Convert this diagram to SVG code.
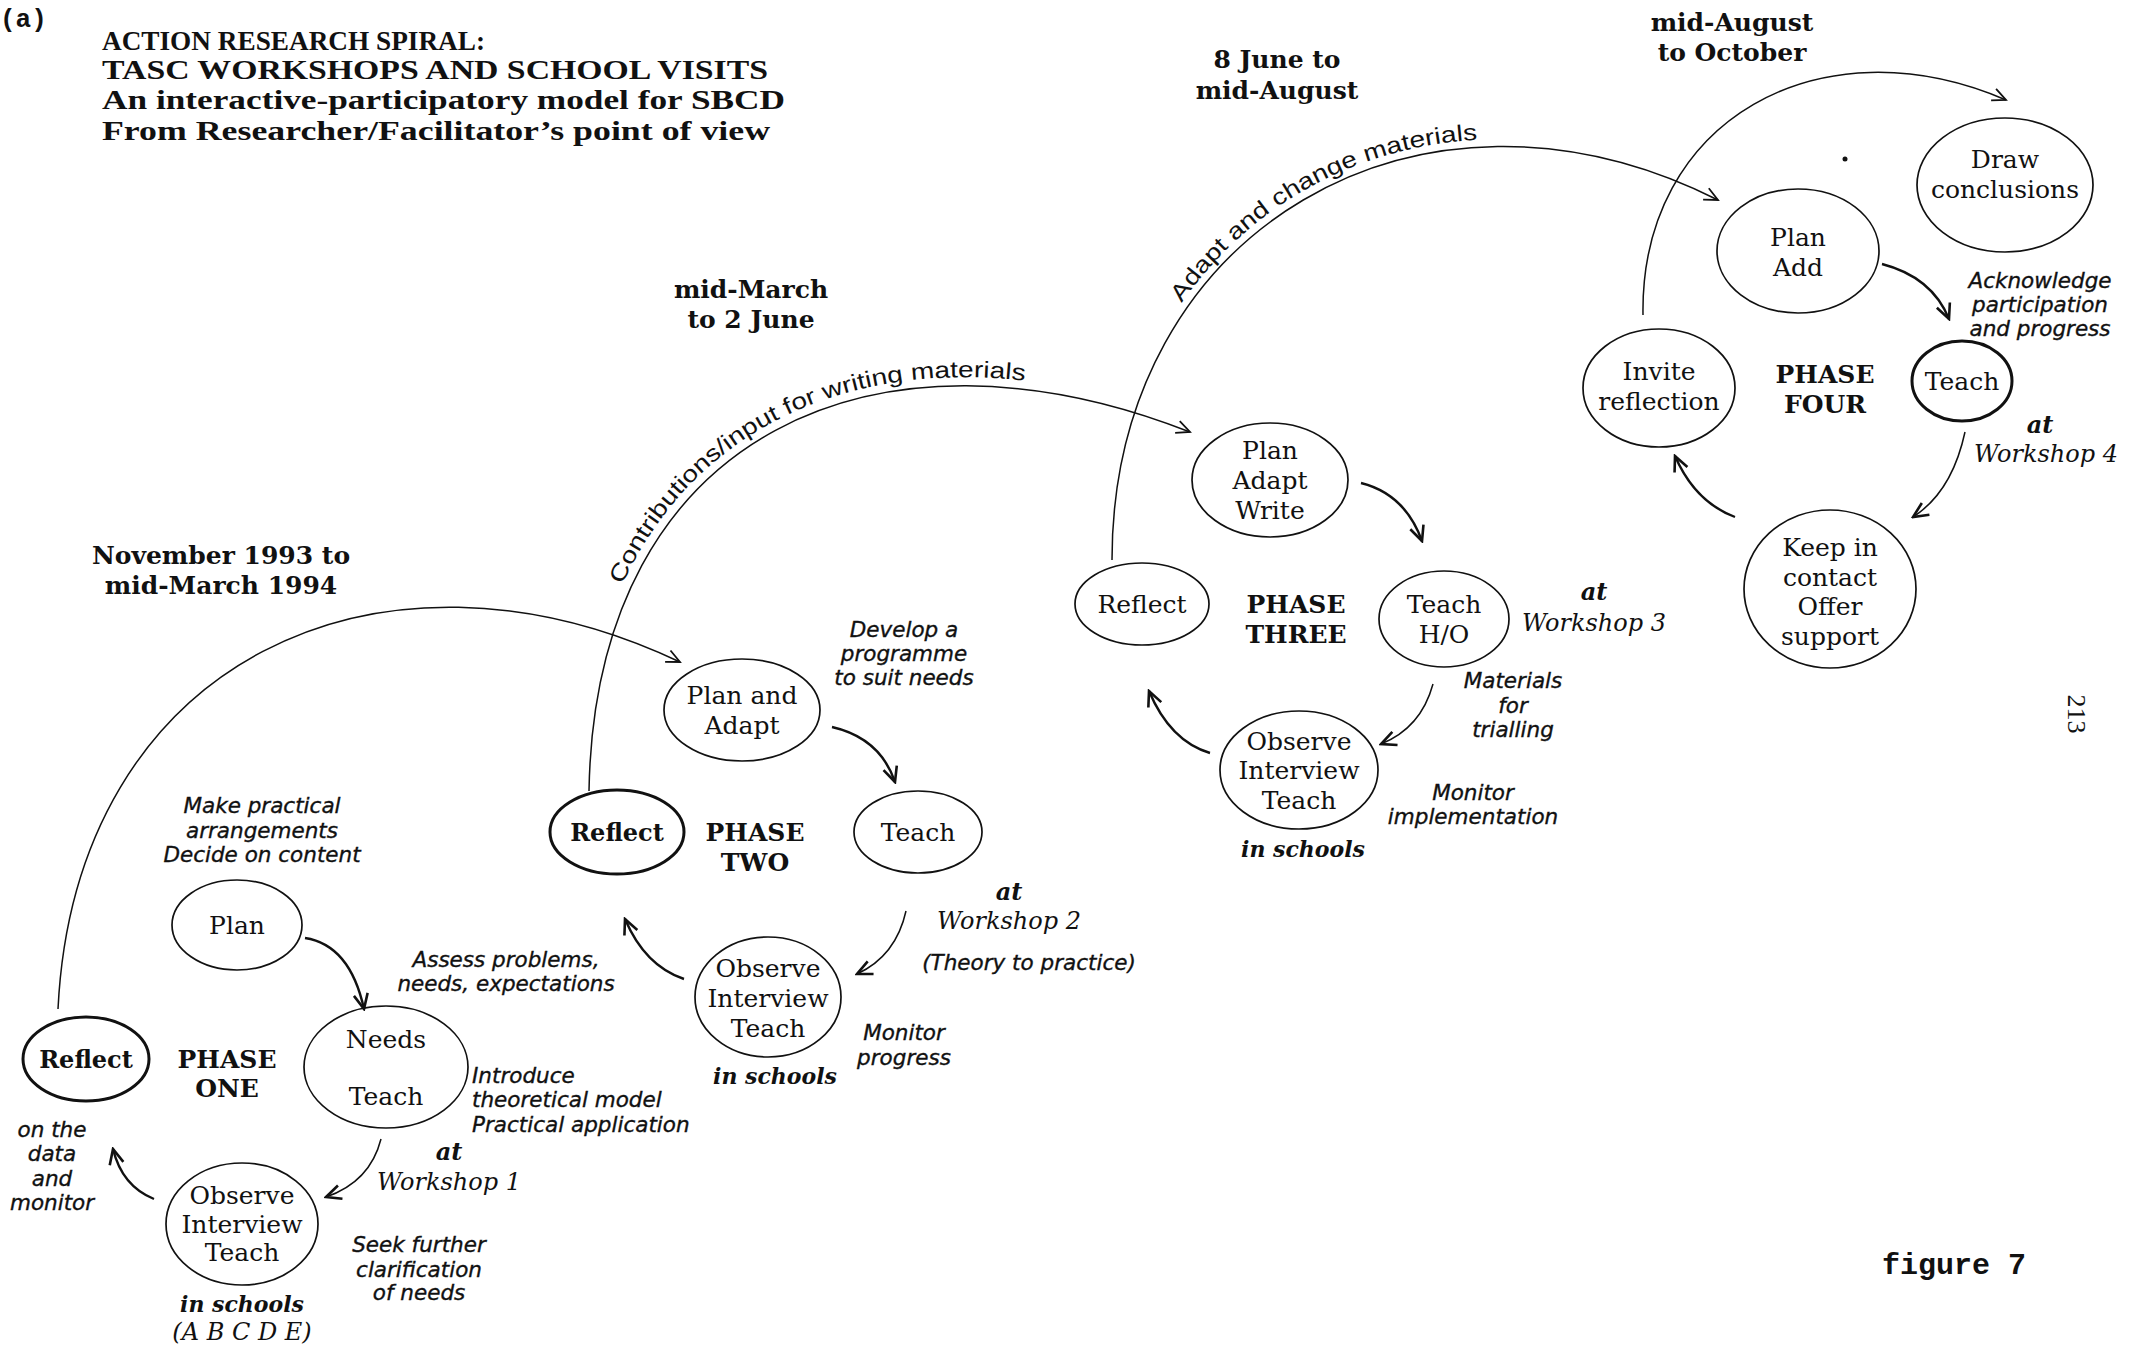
<svg xmlns="http://www.w3.org/2000/svg" width="2132" height="1349" viewBox="0 0 2132 1349">
<style>
.bg{fill:#fff}
ellipse{fill:none;stroke:#111;stroke-width:1.7}
ellipse.thick{stroke-width:3}
text{fill:#111}
.n{font-family:"DejaVu Serif","Liberation Serif",serif;font-size:25px;text-anchor:middle}
.nb{font-family:"DejaVu Serif","Liberation Serif",serif;font-size:24px;font-weight:bold;text-anchor:middle}
.ph{font-family:"DejaVu Serif","Liberation Serif",serif;font-size:25px;font-weight:bold;text-anchor:middle}
.date{font-family:"DejaVu Serif","Liberation Serif",serif;font-size:25px;font-weight:bold;text-anchor:middle}
.title{font-family:"Liberation Serif",serif;font-size:28px;font-weight:bold}
.note{font-family:"DejaVu Sans","Liberation Sans",sans-serif;font-size:21.5px;font-style:italic;text-anchor:middle;stroke:#111;stroke-width:0.35}
.notel{font-family:"DejaVu Sans","Liberation Sans",sans-serif;font-size:21.5px;font-style:italic;stroke:#111;stroke-width:0.35}
.ws{font-family:"DejaVu Serif","Liberation Serif",serif;font-size:24px;font-style:italic;text-anchor:middle}
.at{font-family:"DejaVu Serif","Liberation Serif",serif;font-size:24px;font-style:italic;font-weight:bold;text-anchor:middle}
.sch{font-family:"DejaVu Serif","Liberation Serif",serif;font-size:22px;font-style:italic;font-weight:bold;text-anchor:middle}
.arc{font-family:"Liberation Sans",Arial,sans-serif;font-size:23px}
.mono{font-family:"Liberation Mono","Courier New",monospace;font-weight:bold}
.c{fill:none;stroke:#111;stroke-width:1.5}
.ci{fill:none;stroke:#111;stroke-width:2.4}
</style>
<defs>
<marker id="ah" viewBox="0 0 20 20" refX="18" refY="10" markerWidth="18" markerHeight="18" markerUnits="userSpaceOnUse" orient="auto"><path d="M3,3 L18,10 L3,17" fill="none" stroke="#111" stroke-width="2"/></marker>
<marker id="ahi" viewBox="0 0 20 20" refX="18" refY="10" markerWidth="20" markerHeight="20" markerUnits="userSpaceOnUse" orient="auto"><path d="M3,3 L18,10 L3,17" fill="none" stroke="#111" stroke-width="2.6"/></marker>
<path id="tp2" d="M580,791 C586,423 880,301 1190,423"/>
<path id="tp3" d="M1106,560 C1106,223 1418,41 1716,194"/>
</defs>
<rect class="bg" x="0" y="0" width="2132" height="1349"/>

<g id="title">
<text class="mono" x="0" y="27" font-size="26">(a)</text>
<text class="title" x="102" y="50" textLength="383" lengthAdjust="spacingAndGlyphs">ACTION RESEARCH SPIRAL:</text>
<text class="title" x="102" y="79" textLength="666" lengthAdjust="spacingAndGlyphs">TASC WORKSHOPS AND SCHOOL VISITS</text>
<text class="title" x="102" y="109" textLength="683" lengthAdjust="spacingAndGlyphs">An interactive-participatory model for SBCD</text>
<text class="title" x="102" y="140" textLength="668" lengthAdjust="spacingAndGlyphs">From Researcher/Facilitator’s point of view</text>
</g>

<g id="dates">
<text class="date" x="221" y="564">November 1993 to</text>
<text class="date" x="221" y="594">mid-March 1994</text>
<text class="date" x="751" y="298">mid-March</text>
<text class="date" x="751" y="328">to 2 June</text>
<text class="date" x="1277" y="68">8 June to</text>
<text class="date" x="1277" y="99">mid-August</text>
<text class="date" x="1732" y="31">mid-August</text>
<text class="date" x="1732" y="61">to October</text>
</g>

<g id="connectors">
<path class="c" d="M58,1009 C75,660 380,520 680,662" marker-end="url(#ah)"/>
<path class="c" d="M589,791 C595,430 880,310 1190,432" marker-end="url(#ah)"/>
<path class="c" d="M1112,560 C1112,230 1420,50 1718,200" marker-end="url(#ah)"/>
<path class="c" d="M1643,315 C1640,120 1820,20 2006,100" marker-end="url(#ah)"/>
<path class="ci" d="M305,938 Q350,945 364,1009" marker-end="url(#ahi)"/>
<path class="c" d="M381,1139 Q370,1182 326,1197" marker-end="url(#ahi)"/>
<path class="ci" d="M154,1199 Q122,1186 113,1149" marker-end="url(#ahi)"/>
<path class="ci" d="M832,727 Q880,738 895,782" marker-end="url(#ahi)"/>
<path class="c" d="M906,911 Q896,956 857,974" marker-end="url(#ahi)"/>
<path class="ci" d="M684,979 Q645,966 625,919" marker-end="url(#ahi)"/>
<path class="ci" d="M1361,483 Q1405,494 1422,541" marker-end="url(#ahi)"/>
<path class="c" d="M1433,684 Q1421,728 1381,744" marker-end="url(#ahi)"/>
<path class="ci" d="M1210,753 Q1170,741 1149,691" marker-end="url(#ahi)"/>
<path class="ci" d="M1882,264 Q1932,277 1949,319" marker-end="url(#ahi)"/>
<path class="c" d="M1965,432 Q1952,492 1913,517" marker-end="url(#ahi)"/>
<path class="ci" d="M1735,517 Q1695,502 1675,456" marker-end="url(#ahi)"/>
<text class="arc"><textPath href="#tp2" startOffset="212" textLength="485" lengthAdjust="spacingAndGlyphs">Contributions/input for writing materials</textPath></text>
<text class="arc"><textPath href="#tp3" startOffset="272" textLength="350" lengthAdjust="spacingAndGlyphs">Adapt and change materials</textPath></text>
</g>

<!-- PHASE ONE -->
<g id="p1-reflect"><ellipse class="thick" cx="86" cy="1059" rx="63" ry="42"/><text class="nb" x="86" y="1068">Reflect</text></g>
<g id="p1-label"><text class="ph" x="227" y="1068">PHASE</text><text class="ph" x="227" y="1097">ONE</text></g>
<g id="p1-plan"><ellipse cx="237" cy="925" rx="65" ry="45"/><text class="n" x="237" y="934">Plan</text></g>
<g id="p1-needs"><ellipse cx="386" cy="1067" rx="82" ry="61"/><text class="n" x="386" y="1048">Needs</text><text class="n" x="386" y="1105">Teach</text></g>
<g id="p1-observe"><ellipse cx="242" cy="1224" rx="76" ry="61"/><text class="n" x="242" y="1204">Observe</text><text class="n" x="242" y="1233">Interview</text><text class="n" x="242" y="1261">Teach</text></g>
<g id="p1-notes">
<text class="note" x="262" y="813">Make practical</text>
<text class="note" x="262" y="838">arrangements</text>
<text class="note" x="262" y="862">Decide on content</text>
<text class="note" x="506" y="967">Assess problems,</text>
<text class="note" x="506" y="991">needs, expectations</text>
<text class="notel" x="472" y="1083">Introduce</text>
<text class="notel" x="472" y="1107">theoretical model</text>
<text class="notel" x="472" y="1132">Practical application</text>
<text class="at" x="449" y="1160">at</text>
<text class="ws" x="449" y="1190">Workshop 1</text>
<text class="note" x="419" y="1252">Seek further</text>
<text class="note" x="419" y="1277">clarification</text>
<text class="note" x="419" y="1300">of needs</text>
<text class="sch" x="242" y="1312">in schools</text>
<text class="ws" x="242" y="1340">(A B C D E)</text>
<text class="note" x="52" y="1137">on the</text>
<text class="note" x="52" y="1161">data</text>
<text class="note" x="52" y="1186">and</text>
<text class="note" x="52" y="1210">monitor</text>
</g>

<!-- PHASE TWO -->
<g id="p2-plan"><ellipse cx="742" cy="710" rx="78" ry="51"/><text class="n" x="742" y="704">Plan and</text><text class="n" x="742" y="734">Adapt</text></g>
<g id="p2-reflect"><ellipse class="thick" cx="617" cy="832" rx="67" ry="42"/><text class="nb" x="617" y="841">Reflect</text></g>
<g id="p2-label"><text class="ph" x="755" y="841">PHASE</text><text class="ph" x="755" y="871">TWO</text></g>
<g id="p2-teach"><ellipse cx="918" cy="832" rx="64" ry="41"/><text class="n" x="918" y="841">Teach</text></g>
<g id="p2-observe"><ellipse cx="768" cy="997" rx="73" ry="60"/><text class="n" x="768" y="977">Observe</text><text class="n" x="768" y="1007">Interview</text><text class="n" x="768" y="1037">Teach</text></g>
<g id="p2-notes">
<text class="note" x="904" y="637">Develop a</text>
<text class="note" x="904" y="661">programme</text>
<text class="note" x="904" y="685">to suit needs</text>
<text class="at" x="1009" y="900">at</text>
<text class="ws" x="1009" y="929">Workshop 2</text>
<text class="note" x="1029" y="970">(Theory to practice)</text>
<text class="note" x="904" y="1040">Monitor</text>
<text class="note" x="904" y="1065">progress</text>
<text class="sch" x="775" y="1084">in schools</text>
</g>

<!-- PHASE THREE -->
<g id="p3-plan"><ellipse cx="1270" cy="480" rx="78" ry="57"/><text class="n" x="1270" y="459">Plan</text><text class="n" x="1270" y="489">Adapt</text><text class="n" x="1270" y="519">Write</text></g>
<g id="p3-reflect"><ellipse cx="1142" cy="604" rx="67" ry="41"/><text class="n" x="1142" y="613">Reflect</text></g>
<g id="p3-label"><text class="ph" x="1296" y="613">PHASE</text><text class="ph" x="1296" y="643">THREE</text></g>
<g id="p3-teach"><ellipse cx="1444" cy="619" rx="65" ry="48"/><text class="n" x="1444" y="613">Teach</text><text class="n" x="1444" y="643">H/O</text></g>
<g id="p3-observe"><ellipse cx="1299" cy="770" rx="79" ry="59"/><text class="n" x="1299" y="750">Observe</text><text class="n" x="1299" y="779">Interview</text><text class="n" x="1299" y="809">Teach</text></g>
<g id="p3-notes">
<text class="at" x="1594" y="600">at</text>
<text class="ws" x="1594" y="631">Workshop 3</text>
<text class="note" x="1513" y="688">Materials</text>
<text class="note" x="1513" y="713">for</text>
<text class="note" x="1513" y="737">trialling</text>
<text class="note" x="1473" y="800">Monitor</text>
<text class="note" x="1473" y="824">implementation</text>
<text class="sch" x="1303" y="857">in schools</text>
</g>

<!-- PHASE FOUR -->
<g id="p4-plan"><ellipse cx="1798" cy="251" rx="81" ry="62"/><text class="n" x="1798" y="246">Plan</text><text class="n" x="1798" y="276">Add</text></g>
<g id="p4-draw"><ellipse cx="2005" cy="185" rx="88" ry="67"/><text class="n" x="2005" y="168">Draw</text><text class="n" x="2005" y="198">conclusions</text></g>
<g id="p4-invite"><ellipse cx="1659" cy="388" rx="76" ry="59"/><text class="n" x="1659" y="380">Invite</text><text class="n" x="1659" y="410">reflection</text></g>
<g id="p4-label"><text class="ph" x="1825" y="383">PHASE</text><text class="ph" x="1825" y="413">FOUR</text></g>
<g id="p4-teach"><ellipse class="thick" cx="1962" cy="381" rx="50" ry="40"/><text class="n" x="1962" y="390">Teach</text></g>
<g id="p4-keep"><ellipse cx="1830" cy="589" rx="86" ry="79"/><text class="n" x="1830" y="556">Keep in</text><text class="n" x="1830" y="586">contact</text><text class="n" x="1830" y="615">Offer</text><text class="n" x="1830" y="645">support</text></g>
<g id="p4-notes">
<text class="note" x="2040" y="288">Acknowledge</text>
<text class="note" x="2040" y="312">participation</text>
<text class="note" x="2040" y="336">and progress</text>
<text class="at" x="2040" y="433">at</text>
<text class="ws" x="2046" y="462">Workshop 4</text>
</g>

<g id="page">
<circle cx="1845" cy="159" r="2.5" fill="#111"/>
<text x="2068" y="714" transform="rotate(90 2068 714)" font-family="Liberation Serif,serif" font-size="26" text-anchor="middle">213</text>
<text class="mono" x="1882" y="1274" font-size="30">figure 7</text>
</g>
</svg>
